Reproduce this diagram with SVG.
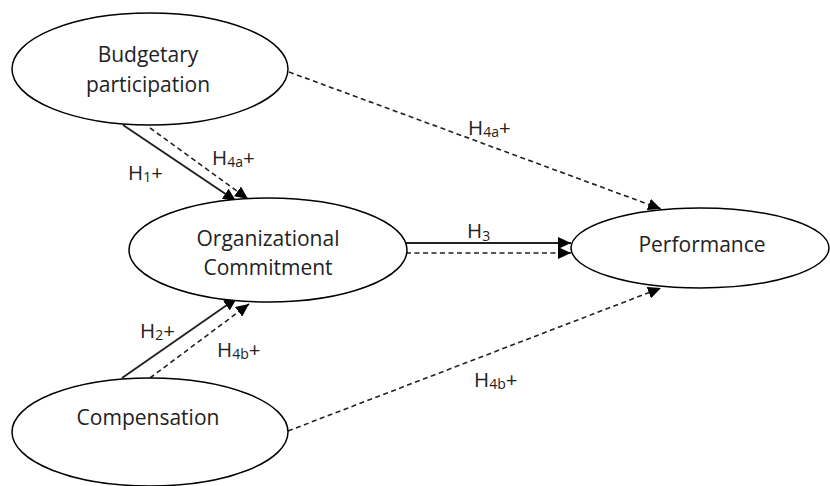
<svg xmlns="http://www.w3.org/2000/svg" width="830" height="486" viewBox="0 0 830 486">
<style>
.node{fill:#fff;stroke:#000;stroke-width:1.5}
.t{font-family:"Open Sans","Liberation Sans",sans-serif;font-size:21px;fill:#222;text-anchor:middle}
.lbl{font-family:"Open Sans","Liberation Sans",sans-serif;font-size:20.5px;fill:#222}
.sub{font-size:14px}
.solid{stroke:#222;stroke-width:2;fill:none}
.dash{stroke:#222;stroke-width:1.6;fill:none;stroke-dasharray:5 3.5}
</style>
<defs>
<marker id="arr" markerUnits="userSpaceOnUse" markerWidth="14" markerHeight="12" refX="13" refY="6" orient="auto">
<path d="M0,0 L13,6 L0,12 z" fill="#000"/>
</marker>
</defs>
<rect width="830" height="486" fill="#fff"/>
<g id="connectors">
<line class="solid" x1="123" y1="125" x2="236" y2="201" marker-end="url(#arr)"/>
<line class="dash" x1="150" y1="128" x2="248" y2="199" marker-end="url(#arr)"/>
<line class="solid" x1="122" y1="378" x2="237" y2="298" marker-end="url(#arr)"/>
<line class="dash" x1="150" y1="378" x2="249" y2="304" marker-end="url(#arr)"/>
<line class="solid" x1="406" y1="243" x2="571" y2="243" marker-end="url(#arr)"/>
<line class="dash" x1="406" y1="253" x2="571" y2="253" marker-end="url(#arr)"/>
<line class="dash" x1="289" y1="72" x2="661" y2="209" marker-end="url(#arr)"/>
<line class="dash" x1="288" y1="431" x2="661" y2="288" marker-end="url(#arr)"/>
</g>
<g id="budgetary">
<ellipse class="node" cx="150" cy="69" rx="138" ry="56"/>
<text class="t" x="148" y="62">Budgetary</text>
<text class="t" x="148" y="92">participation</text>
</g>
<g id="commitment">
<ellipse class="node" cx="268" cy="250" rx="139" ry="52"/>
<text class="t" x="268" y="246">Organizational</text>
<text class="t" x="268" y="275">Commitment</text>
</g>
<g id="performance">
<ellipse class="node" cx="700" cy="248" rx="129" ry="40"/>
<text class="t" x="702" y="252">Performance</text>
</g>
<g id="compensation">
<ellipse class="node" cx="150" cy="432" rx="138" ry="54"/>
<text class="t" x="148" y="425">Compensation</text>
</g>
<g id="labels">
<text class="lbl" x="128" y="180">H<tspan class="sub" dy="2">1</tspan><tspan dy="-2">+</tspan></text>
<text class="lbl" x="212" y="165">H<tspan class="sub" dy="2">4a</tspan><tspan dy="-2">+</tspan></text>
<text class="lbl" x="468" y="135">H<tspan class="sub" dy="2">4a</tspan><tspan dy="-2">+</tspan></text>
<text class="lbl" x="467" y="238">H<tspan class="sub" dy="3">3</tspan></text>
<text class="lbl" x="140" y="338">H<tspan class="sub" dy="2">2</tspan><tspan dy="-2">+</tspan></text>
<text class="lbl" x="217" y="357">H<tspan class="sub" dy="2">4b</tspan><tspan dy="-2">+</tspan></text>
<text class="lbl" x="474" y="387">H<tspan class="sub" dy="2">4b</tspan><tspan dy="-2">+</tspan></text>
</g>
</svg>
